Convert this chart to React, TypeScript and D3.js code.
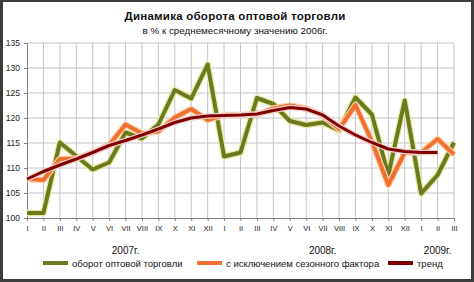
import { useEffect, useRef } from 'react'
import * as d3 from 'd3'

const W = 474
const H = 282
const M = { top: 43, right: 20, bottom: 64, left: 27 }

const months = ['I', 'II', 'III', 'IV', 'V', 'VI', 'VII', 'VIII', 'IX', 'X', 'XI', 'XII',
  'I', 'II', 'III', 'IV', 'V', 'VI', 'VII', 'VIII', 'IX', 'X', 'XI', 'XII',
  'I', 'II', 'III']
const years = [
  { label: '2007г.', at: 6 },
  { label: '2008г.', at: 18 },
  { label: '2009г.', at: 25 },
]
const yTicks = [100, 105, 110, 115, 120, 125, 130, 135]

// оборот оптовой торговли
const turnover = [101, 101, 115.1, 112.4, 109.7, 111.1, 117.1, 115.9, 118.7, 125.6, 123.9, 130.7,
  112.3, 113.1, 124, 122.8, 119.4, 118.6, 119.1, 117.5, 124.1, 120.7, 108.6, 123.5, 104.9, 108.6, 115.1]
// с исключением сезонного фактора
const adjusted = [107.8, 107.6, 111.8, 111.9, 113.1, 114.6, 118.7, 116.9, 117.3, 120.1, 121.8, 119.6,
  120.6, 120.6, 120.7, 121.9, 122.5, 121.9, 120.6, 117.8, 122.6, 115.3, 106.6, 113.1, 113.1, 115.8, 112.7]
// тренд
const trend = [107.8, 109.3, 110.6, 111.8, 113.1, 114.5, 115.5, 116.6, 117.8, 119.1, 120.0, 120.4,
  120.5, 120.6, 120.8, 121.5, 122.1, 121.8, 120.6, 118.4, 116.6, 115.1, 113.8, 113.3, 113.1, 113.1]

const series = [
  { name: 'оборот оптовой торговли', values: turnover, color: '#6b7a1e', glow: '#e6e8a0', width: 4 },
  { name: 'с исключением сезонного фактора', values: adjusted, color: '#f07030', glow: '#fcd0b0', width: 4 },
  { name: 'тренд', values: trend, color: '#800000', glow: '#f0d0d0', width: 3 },
]

export default function App() {
  const svgRef = useRef<SVGSVGElement>(null)

  useEffect(() => {
    if (!svgRef.current) return
    const svg = d3.select(svgRef.current)
    svg.selectAll('*').remove()
    const font = 'Liberation Sans, Arial, sans-serif'

    svg.append('rect').attr('x', 0).attr('y', 0).attr('width', W).attr('height', H).attr('fill', '#3c3c3c')
    svg.append('rect').attr('x', 3).attr('y', 2).attr('width', W - 6).attr('height', H - 5).attr('fill', '#fff')

    const x = d3.scalePoint<number>()
      .domain(months.map((_, i) => i))
      .range([M.left, W - M.right])
    const y = d3.scaleLinear().domain([100, 135]).range([H - M.bottom, M.top])

    // grid
    svg.append('g').selectAll('line').data(yTicks.slice(1)).join('line')
      .attr('x1', M.left).attr('x2', W - M.right)
      .attr('y1', d => y(d)).attr('y2', d => y(d))
      .attr('stroke', '#c4c4c4').attr('stroke-width', 1)
    svg.append('g').selectAll('line').data(months.map((_, i) => i).slice(1)).join('line')
      .attr('x1', d => x(d)!).attr('x2', d => x(d)!)
      .attr('y1', M.top).attr('y2', H - M.bottom)
      .attr('stroke', '#c4c4c4').attr('stroke-width', 1)

    // axes
    const yAxis = d3.axisLeft(y).tickValues(yTicks).tickSize(3).tickFormat(d3.format('d'))
    svg.append('g').attr('transform', `translate(${M.left},0)`).call(yAxis)
      .call(ax => {
        ax.select('.domain').attr('stroke', '#808080')
        ax.selectAll('.tick line').attr('stroke', '#808080')
        ax.selectAll('text').attr('fill', '#222').attr('font-size', 8.5).attr('font-family', font).attr('dx', -1)
      })
    const xAxis = d3.axisBottom(x).tickSize(3).tickFormat(i => months[i as number])
    svg.append('g').attr('transform', `translate(0,${H - M.bottom})`).call(xAxis)
      .call(ax => {
        ax.select('.domain').attr('stroke', '#808080')
        ax.selectAll('.tick line').attr('stroke', '#808080')
        ax.selectAll('text').attr('fill', '#222').attr('font-size', 7.5).attr('font-family', font).attr('dy', '0.9em')
      })

    svg.append('g').selectAll('text').data(years).join('text')
      .attr('x', d => x(d.at)!).attr('y', 254)
      .attr('text-anchor', 'middle').attr('font-size', 10).attr('font-family', font).attr('fill', '#111')
      .text(d => d.label)

    // lines
    const line = d3.line<number>().x((_, i) => x(i)!).y(d => y(d))
    series.forEach(s => {
      svg.append('path').attr('d', line(s.values)).attr('fill', 'none')
        .attr('stroke', s.glow).attr('stroke-width', s.width + 2.5).attr('stroke-linejoin', 'round')
      svg.append('path').attr('d', line(s.values)).attr('fill', 'none')
        .attr('stroke', s.color).attr('stroke-width', s.width).attr('stroke-linejoin', 'round')
    })

    // title
    svg.append('text').attr('x', 235).attr('y', 20).attr('text-anchor', 'middle')
      .attr('font-size', 11.5).attr('font-weight', 'bold').attr('font-family', font).attr('fill', '#111')
      .attr('letter-spacing', 0.25)
      .text('Динамика оборота оптовой торговли')
    svg.append('text').attr('x', 235).attr('y', 34).attr('text-anchor', 'middle')
      .attr('font-size', 9.8).attr('font-family', font).attr('fill', '#111')
      .text('в % к среднемесячному значению 2006г.')

    // legend
    const legendX = [43, 197, 388]
    const lg = svg.append('g').selectAll('g').data(series).join('g')
      .attr('transform', (_, i) => `translate(${legendX[i]},265)`)
    lg.append('line').attr('x1', 0).attr('x2', 25).attr('y1', -2).attr('y2', -2)
      .attr('stroke', d => d.color).attr('stroke-width', 4)
    lg.append('text').attr('x', 29).attr('y', 2)
      .attr('font-size', 9.5).attr('font-family', font).attr('fill', '#111')
      .text(d => d.name)
  }, [])

  return (
    <svg ref={svgRef} width={W} height={H}
      style={{ position: 'absolute', left: 0, top: 0, display: 'block' }} />
  )
}
